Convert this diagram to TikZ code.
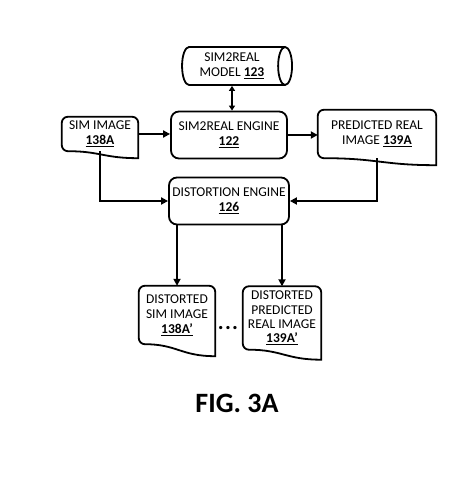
\documentclass[tikz,border=0pt]{standalone}
\usepackage{fontspec}
\setmainfont{Carlito}
\usetikzlibrary{positioning, arrows.meta, shapes.geometric, calc}

\begin{document}
\begin{tikzpicture}[x=1pt, y=1pt,
  line/.style={line width=1.8pt},
  arr/.style={line width=1.8pt, -{Triangle[length=7pt,width=7pt]}},
  engine/.style={draw, line width=1.8pt, rounded corners=8pt, minimum width=116pt, minimum height=47pt, align=center, font=\fontsize{13.5}{15}\selectfont},
  docbox/.style={align=center, inner sep=0pt, font=\fontsize{13.5}{15}\selectfont},
  store/.style={cylinder, draw, line width=1.8pt, shape aspect=0.5, minimum height=110pt, minimum width=38pt, align=center, inner sep=1pt, font=\fontsize{13.5}{15}\selectfont}
]
 \useasboundingbox (0,0) rectangle (473,503);

 \node[store] (model) at (232,437) {SIM2REAL\\MODEL \underline{\textbf{123}}};
 \node[engine] (s2r) at (229,368) {SIM2REAL ENGINE\\\underline{\textbf{122}}};
 \node[docbox, minimum width=76pt, minimum height=34pt] (sim) at (100,369) {SIM IMAGE\\\underline{\textbf{138A}}};
 \node[docbox, minimum width=118pt, minimum height=48pt] (pred) at (377,369) {PREDICTED REAL\\IMAGE \underline{\textbf{139A}}};
 \node[engine] (dist) at (229,302) {DISTORTION ENGINE\\\underline{\textbf{126}}};
 \node[docbox, minimum width=76pt, minimum height=58pt] (dsim) at (177,188) {DISTORTED\\SIM IMAGE\\\underline{\textbf{138A’}}};
 \node[docbox, minimum width=78pt, minimum height=63pt, font=\fontsize{13.5}{14.3}\selectfont] (dpred) at (282,185) {DISTORTED\\PREDICTED\\REAL IMAGE\\\underline{\textbf{139A’}}};
 \node[anchor=base, font=\fontsize{22}{24}\selectfont\bfseries] (dots) at (228,173) {.\kern1.2pt.\kern1.2pt.};
 \node[font=\fontsize{28}{30}\selectfont\bfseries] (fig) at (237,100) {FIG. 3A};

 %document outlines
 \foreach \nm/\dep in {sim/7, pred/7, dsim/12, dpred/10}
   \draw[line, rounded corners=6pt] ($(\nm.south east)+(0,-\dep)$) -- (\nm.north east) -- (\nm.north west) -- (\nm.south west) [sharp corners] .. controls ($(\nm.south west)!0.5!(\nm.south east)$) and ($(\nm.south west)!0.55!(\nm.south east)+(0,-\dep)$) .. cycle;

 %connectors
 \draw[line, {Triangle[length=5pt,width=6pt]}-{Triangle[length=5pt,width=6pt]}] (model.south) -- (model.south |- s2r.north);
 \draw[arr] (sim.east) -- (sim.east -| s2r.west);
 \draw[arr] (s2r.east) -- (s2r.east -| pred.west);
 \draw[arr] (sim.south) |- (dist.west);
 \draw[arr] (pred.south) |- (dist.east);
 \draw[arr] (dsim.north |- dist.south) -- (dsim.north);
 \draw[arr] (dpred.north |- dist.south) -- (dpred.north);
\end{tikzpicture}
\end{document}
